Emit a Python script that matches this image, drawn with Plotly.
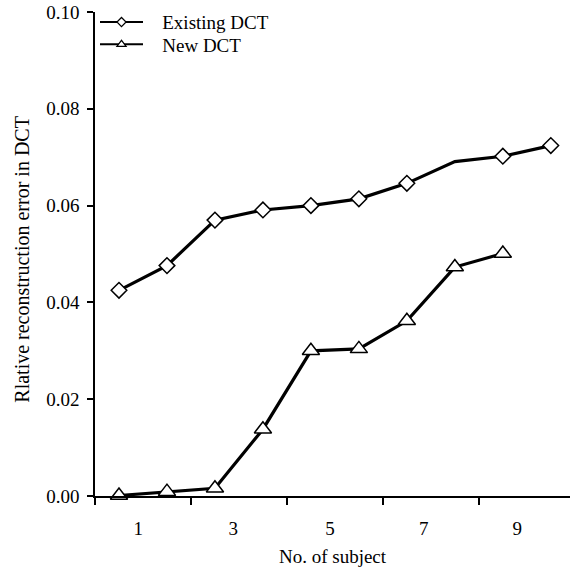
import plotly.graph_objects as go

subjects_existing = [1, 2, 3, 4, 5, 6, 7, 8, 9, 10]
existing_dct = [0.0425, 0.0476, 0.0570, 0.0591, 0.0600, 0.0614, 0.0646, 0.0691, 0.0702, 0.0724]
subjects_new = [1, 2, 3, 4, 5, 6, 7, 8, 9]
new_dct = [0.0001, 0.0009, 0.0016, 0.0138, 0.0300, 0.0304, 0.0362, 0.0473, 0.0501]
tick_labels = ["1", "3", "5", "7", "9"]

FONT = "Liberation Serif, Times New Roman, serif"
FS = 19

# marker on 8th existing point is not drawn in the original
ex_sizes = [12] * len(existing_dct)
ex_sizes[7] = 0

fig = go.Figure()
fig.add_trace(go.Scatter(
    x=subjects_existing, y=existing_dct, name="Existing DCT",
    mode="lines+markers", showlegend=False,
    line=dict(color="black", width=3.2),
    marker=dict(symbol="diamond", size=ex_sizes, color="#ffffff", opacity=1,
                line=dict(color="black", width=1.5)),
    cliponaxis=False,
))
fig.add_trace(go.Scatter(
    x=subjects_new, y=new_dct, name="New DCT",
    mode="lines+markers", showlegend=False,
    line=dict(color="black", width=3.2),
    marker=dict(symbol="triangle-up", size=15, color="#ffffff", opacity=1,
                line=dict(color="black", width=1.5)),
    cliponaxis=False,
))
# legend entries (thin line, small marker like the original key)
NB = "\u00a0\u00a0\u00a0"
fig.add_trace(go.Scatter(
    x=[None], y=[None], name=NB + "Existing DCT", mode="lines+markers",
    line=dict(color="black", width=2),
    marker=dict(symbol="diamond", size=7, color="#ffffff", line=dict(color="black", width=1.2)),
    legend="legend",
))
fig.add_trace(go.Scatter(
    x=[None], y=[None], name=NB + "New DCT", mode="lines+markers",
    line=dict(color="black", width=2),
    marker=dict(symbol="triangle-up", size=8, color="#ffffff", line=dict(color="black", width=1.2)),
    legend="legend2",
))

leg_common = dict(xanchor="left", yanchor="middle", bgcolor="rgba(0,0,0,0)",
                  font=dict(family=FONT, size=FS), itemwidth=43, itemsizing="trace",
                  borderwidth=0)

fig.update_layout(
    width=570, height=567,
    margin=dict(l=95, r=0, t=12, b=71, autoexpand=False),
    paper_bgcolor="white", plot_bgcolor="white",
    font=dict(family=FONT, size=FS, color="black"),
    showlegend=True,
    legend=dict(x=0.0, y=0.979, **leg_common),
    legend2=dict(x=0.0, y=0.933, **leg_common),
    xaxis=dict(
        range=[0.5, 10.4], showgrid=False, zeroline=False, automargin=False,
        showline=True, linecolor="black", linewidth=1.5,
        tickmode="array", tickvals=[1.4, 3.38, 5.4, 7.35, 9.3], ticktext=tick_labels,
        ticks="", ticklabelstandoff=14,
        minor=dict(tickmode="array", tickvals=[0.5, 2.5, 4.5, 6.5, 8.5],
                   ticks="outside", ticklen=7, tickwidth=1.5, tickcolor="black", showgrid=False),
        title=dict(text="No. of subject", standoff=14, font=dict(family=FONT, size=FS)),
        tickfont=dict(family=FONT, size=FS),
    ),
    yaxis=dict(
        range=[0, 0.10], showgrid=False, zeroline=False, automargin=False,
        showline=True, linecolor="black", linewidth=1.5,
        tickmode="array", tickvals=[0, 0.02, 0.04, 0.06, 0.08, 0.10],
        tickformat=".2f", ticks="outside", ticklen=6, tickwidth=1.5, tickcolor="black",
        ticklabelstandoff=4, ticklabeloverflow="allow",
        tickfont=dict(family=FONT, size=FS),
    ),
    annotations=[dict(
        text="Rlative reconstruction error in DCT", textangle=-90,
        xref="paper", yref="paper", x=-0.154, y=0.49,
        xanchor="center", yanchor="middle", showarrow=False,
        font=dict(family=FONT, size=20),
    )],
)

fig.write_html("out.html",
               config={"displayModeBar": False},
               post_script="document.body.style.margin='0';document.body.style.overflow='hidden';")
